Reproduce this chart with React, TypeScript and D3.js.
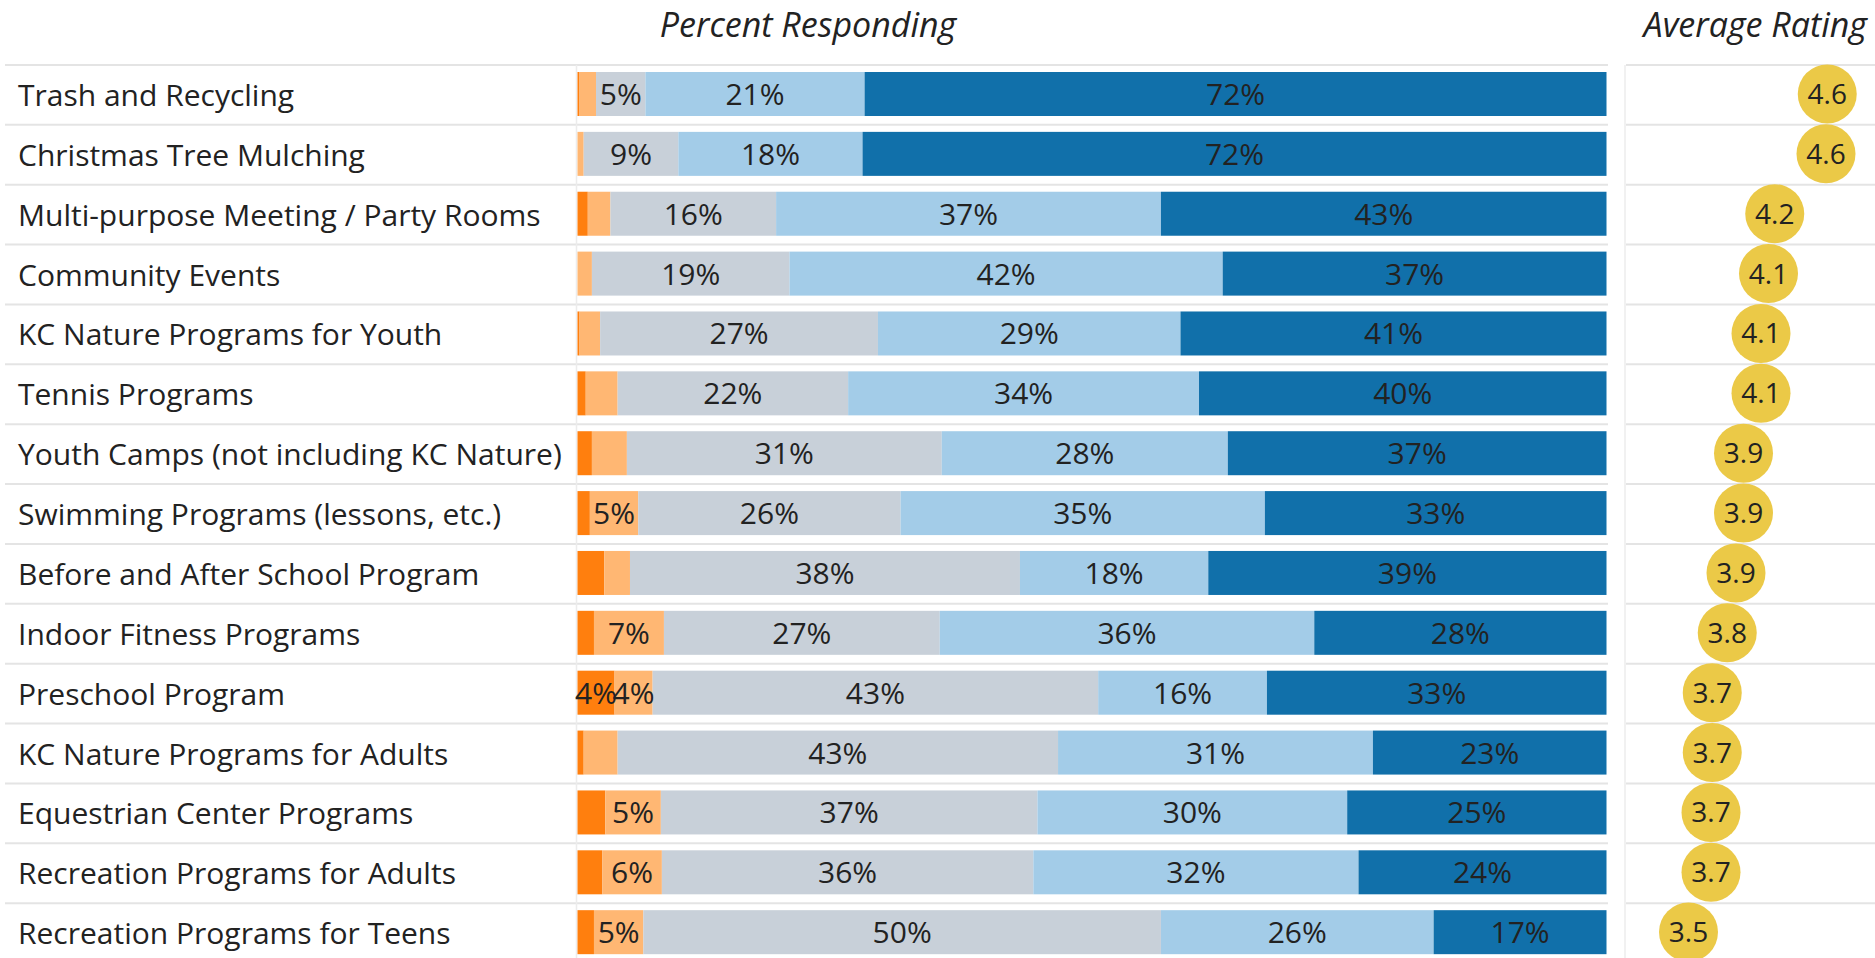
import React from "react";
import * as d3 from "d3";

const categories = [
  "Trash and Recycling",
  "Christmas Tree Mulching",
  "Multi-purpose Meeting / Party Rooms",
  "Community Events",
  "KC Nature Programs for Youth",
  "Tennis Programs",
  "Youth Camps (not including KC Nature)",
  "Swimming Programs (lessons, etc.)",
  "Before and After School Program",
  "Indoor Fitness Programs",
  "Preschool Program",
  "KC Nature Programs for Adults",
  "Equestrian Center Programs",
  "Recreation Programs for Adults",
  "Recreation Programs for Teens",
];

const veryDissatisfied = [0.2, 0, 1.0, 0, 0.2, 0.8, 1.4, 1.2, 2.6, 1.6, 3.6, 0.6, 2.7, 2.4, 1.6];
const dissatisfied = [1.6, 0.6, 2.2, 1.4, 2.0, 3.1, 3.4, 4.7, 2.5, 6.8, 3.7, 3.3, 5.4, 5.8, 4.8];
const neutral = [4.8, 9.2, 16.1, 19.2, 27.0, 22.4, 30.6, 25.5, 37.9, 26.8, 43.3, 42.8, 36.6, 36.1, 50.3];
const satisfied = [21.3, 17.9, 37.4, 42.1, 29.4, 34.1, 27.8, 35.4, 18.3, 36.4, 16.4, 30.6, 30.1, 31.6, 26.5];
const verySatisfied = [72.1, 72.3, 43.3, 37.3, 41.4, 39.6, 36.8, 33.2, 38.7, 28.4, 33.0, 22.7, 25.2, 24.1, 16.8];

const averageRating = [4.61, 4.6, 4.19, 4.14, 4.08, 4.08, 3.94, 3.94, 3.88, 3.81, 3.69, 3.69, 3.68, 3.68, 3.5];

const seriesKeys = ["veryDissatisfied", "dissatisfied", "neutral", "satisfied", "verySatisfied"];
const seriesColors = ["#FF7F0E", "#FFB773", "#C8D0D9", "#A3CCE8", "#1170AA"];

const W = 1875;
const H = 958;
const FONT = "'Open Sans', sans-serif";

export default function App() {
  const rows = categories.map((c, i) => ({
    category: c,
    veryDissatisfied: veryDissatisfied[i],
    dissatisfied: dissatisfied[i],
    neutral: neutral[i],
    satisfied: satisfied[i],
    verySatisfied: verySatisfied[i],
    rating: averageRating[i],
  }));

  const top = 65;
  const rowH = 59.87;
  const y = d3
    .scaleBand<string>()
    .domain(categories)
    .range([top, top + rowH * categories.length])
    .padding(0);

  const x = d3.scaleLinear().domain([0, 100]).range([577.5, 1606.5]);
  const xr = d3.scaleLinear().domain([3, 5]).range([1626, 1876]);

  const stack = d3.stack<any>().keys(seriesKeys);
  const stacked = stack(rows);

  const fmt1 = d3.format(".1f");
  const gridColor = "#e4e4e4";
  const textColor = "#222";
  const fs = 30;

  return (
    <div style={{ position: "absolute", left: 0, top: 0 }}>
      <svg width={W} height={H} style={{ display: "block", background: "#fff" }}>
        {/* titles */}
        <text x={808} y={37} textAnchor="middle" fontFamily={FONT} fontStyle="italic" fontSize={34} fill={textColor}>
          Percent Responding
        </text>
        <text x={1867} y={37} textAnchor="end" fontFamily={FONT} fontStyle="italic" fontSize={34} fill={textColor}>
          Average Rating
        </text>

        {/* grid lines */}
        {categories.map((c) => (
          <g key={"g" + c}>
            <line x1={5} x2={1608} y1={y(c)!} y2={y(c)!} stroke={gridColor} strokeWidth={2} />
            <line x1={1626} x2={W} y1={y(c)!} y2={y(c)!} stroke={gridColor} strokeWidth={2} />
          </g>
        ))}
        <line x1={576.5} x2={576.5} y1={top} y2={H} stroke="#ececec" strokeWidth={1.5} />
        <line x1={1625} x2={1625} y1={top} y2={H} stroke="#ececec" strokeWidth={1.5} />

        {/* category labels */}
        {categories.map((c) => (
          <text
            key={"l" + c}
            x={18}
            y={y(c)! + y.bandwidth() / 2 + 11}
            fontFamily={FONT}
            fontSize={fs}
            fill={textColor}
          >
            {c}
          </text>
        ))}

        {/* stacked bars */}
        {stacked.map((s, si) => (
          <g key={"s" + si} fill={seriesColors[si]}>
            {s.map((d, i) => {
              const w = x(d[1]) - x(d[0]);
              if (w <= 0) return null;
              return (
                <rect
                  key={i}
                  x={x(d[0])}
                  y={y(categories[i])! + 7}
                  width={w}
                  height={44}
                />
              );
            })}
          </g>
        ))}

        {/* percent labels */}
        {stacked.map((s, si) => (
          <g key={"t" + si}>
            {s.map((d, i) => {
              const v = d[1] - d[0];
              const r = Math.round(v);
              if (r < 4) return null;
              return (
                <text
                  key={i}
                  x={(x(d[0]) + x(d[1])) / 2}
                  y={y(categories[i])! + y.bandwidth() / 2 + 10}
                  textAnchor="middle"
                  fontFamily={FONT}
                  fontSize={fs}
                  fill={textColor}
                >
                  {r + "%"}
                </text>
              );
            })}
          </g>
        ))}

        {/* rating circles */}
        {rows.map((r) => {
          const cy = y(r.category)! + y.bandwidth() / 2 - 1;
          return (
            <g key={"r" + r.category}>
              <circle cx={xr(r.rating)} cy={cy} r={29.5} fill="#EBC947" />
              <text
                x={xr(r.rating)}
                y={cy + 10}
                textAnchor="middle"
                fontFamily={FONT}
                fontSize={28}
                fill={textColor}
              >
                {fmt1(r.rating)}
              </text>
            </g>
          );
        })}
      </svg>
    </div>
  );
}
